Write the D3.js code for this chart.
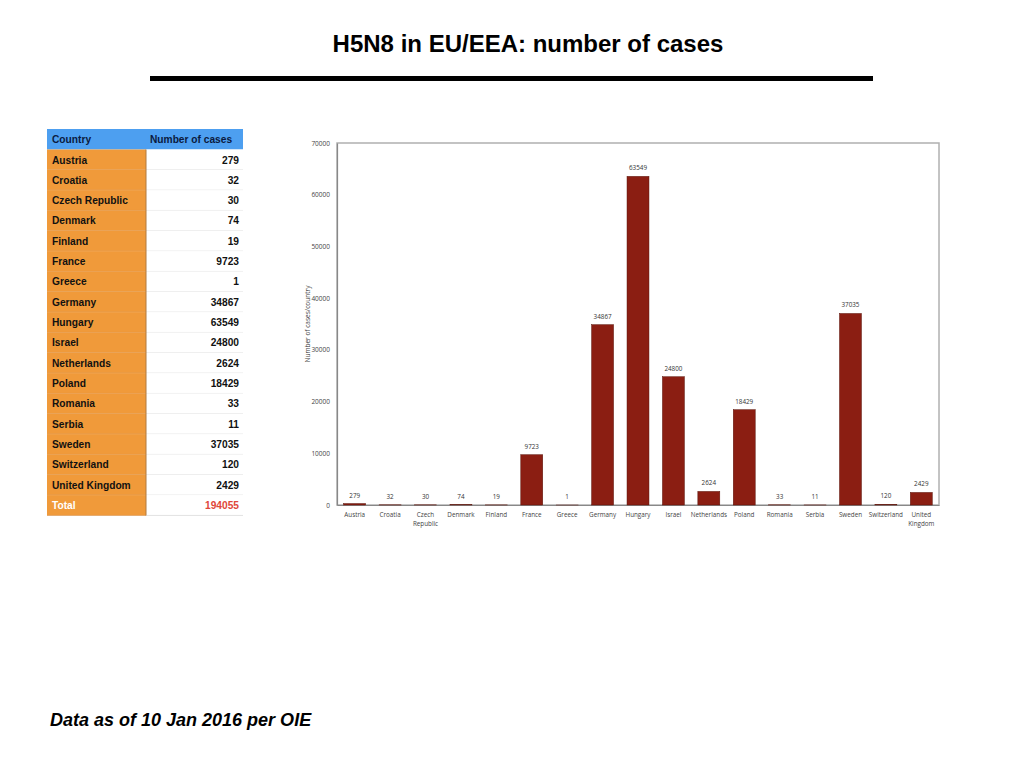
<!DOCTYPE html>
<html><head><meta charset="utf-8">
<script src="https://cdn.jsdelivr.net/npm/d3@7/dist/d3.min.js"></script>
<style>body{margin:0;background:#fff}svg{display:block}</style>
</head><body>
<svg id="c" width="1024" height="768"></svg>
<script>
const countries = ["Austria","Croatia","Czech Republic","Denmark","Finland","France","Greece","Germany","Hungary","Israel","Netherlands","Poland","Romania","Serbia","Sweden","Switzerland","United Kingdom"];
const cases = [279,32,30,74,19,9723,1,34867,63549,24800,2624,18429,33,11,37035,120,2429];
const yTicks = [0,10000,20000,30000,40000,50000,60000,70000];
const totalCases = 194055;
const tableHeader = ["Country","Number of cases"];

const svg = d3.select("#c");
const F = "'Liberation Sans', Arial, Helvetica, sans-serif";

// Title
svg.append("text").attr("x",528).attr("y",52).attr("text-anchor","middle")
  .attr("font-family",F).attr("font-weight","bold").attr("font-size",24).attr("fill","#000")
  .text("H5N8 in EU/EEA: number of cases");
svg.append("rect").attr("x",150).attr("y",76).attr("width",723).attr("height",5).attr("fill","#000");

// Table
const tx = 47, tMid = 146, tR = 243, hTop = 129, hH = 20.5, rH = 20.33;
const tg = svg.append("g");
const TFS = 10.2;
tg.append("rect").attr("x",tx).attr("y",hTop).attr("width",tR-tx).attr("height",hH).attr("fill","#4d9ff0");
tg.append("text").attr("x",tx+5).attr("y",hTop+14).attr("font-family",F).attr("font-weight","bold").attr("font-size",TFS).attr("fill","#0a1a40").text(tableHeader[0]);
tg.append("text").attr("x",tMid+4).attr("y",hTop+14).attr("font-family",F).attr("font-weight","bold").attr("font-size",TFS).attr("fill","#0a1a40").text(tableHeader[1]);
const rows = countries.map((c,i)=>({c, v:cases[i], total:false})).concat([{c:"Total", v:totalCases, total:true}]);
const r0 = hTop+hH;
const rg = tg.selectAll("g.row").data(rows).join("g").attr("transform",(d,i)=>`translate(0,${r0+i*rH})`);
rg.append("rect").attr("x",tx).attr("y",0).attr("width",tMid-tx).attr("height",rH).attr("fill","#f09a3a");
rg.append("rect").attr("x",tMid).attr("y",0).attr("width",tR-tMid).attr("height",rH).attr("fill","#fff");
rg.append("line").attr("x1",tx).attr("x2",tMid).attr("y1",rH).attr("y2",rH).attr("stroke","#e0a060").attr("stroke-width",0.8);
rg.append("line").attr("x1",tMid).attr("x2",tR).attr("y1",rH).attr("y2",rH).attr("stroke","#dcdcdc").attr("stroke-width",0.8);
rg.append("text").attr("x",tx+5).attr("y",14).attr("font-family",F).attr("font-weight","bold").attr("font-size",TFS)
  .attr("fill",d=>d.total?"#fff":"#111").text(d=>d.c);
rg.append("text").attr("x",tR-4).attr("y",14).attr("text-anchor","end").attr("font-family",F).attr("font-weight","bold").attr("font-size",TFS)
  .attr("fill",d=>d.total?"#e0473a":"#111").text(d=>d.v);
tg.append("line").attr("x1",tMid).attr("x2",tMid).attr("y1",r0).attr("y2",r0+rows.length*rH).attr("stroke","#b07a40").attr("stroke-width",1);

// Chart
const pL = 337, pR = 939, pT = 143, pB = 505;
const x = d3.scaleBand().domain(countries).range([pL,pR]).paddingInner(0.38).paddingOuter(0.19);
const y = d3.scaleLinear().domain([0,70000]).range([pB,pT]);
const cg = svg.append("g");
cg.append("rect").attr("x",pL).attr("y",pT).attr("width",pR-pL).attr("height",pB-pT).attr("fill","none").attr("stroke","#b0b0b0").attr("stroke-width",1.5);

const yAxis = d3.axisLeft(y).tickValues(yTicks).tickSize(0).tickPadding(7).tickFormat(d3.format("d"));
const ya = cg.append("g").attr("transform",`translate(${pL},0)`).call(yAxis);
ya.select(".domain").attr("stroke","#888").attr("stroke-width",1.2);
ya.selectAll("text").attr("font-family","'Open Sans', 'DejaVu Sans', sans-serif").attr("font-size",6.5).attr("fill","#444");

const xAxis = d3.axisBottom(x).tickSize(0).tickPadding(8);
const xa = cg.append("g").attr("transform",`translate(0,${pB})`).call(xAxis);
xa.select(".domain").attr("stroke","#888").attr("stroke-width",1.2);
xa.selectAll("text").attr("font-family","'Open Sans', 'DejaVu Sans', sans-serif").attr("font-size",6.3).attr("fill","#444")
  .each(function(d){
    const t = d3.select(this);
    const parts = d.split(" ");
    if (parts.length>1){
      t.text(null);
      parts.forEach((p,i)=>t.append("tspan").attr("x",0).attr("dy",i===0?"0.71em":"1.35em").text(p));
    }
  });

cg.selectAll("rect.bar").data(countries).join("rect").attr("class","bar")
  .attr("x",d=>x(d)).attr("width",x.bandwidth())
  .attr("y",(d,i)=>y(cases[i])).attr("height",(d,i)=>Math.max(0,pB-y(cases[i])))
  .attr("fill","#8b1e12").attr("stroke","#5a1208").attr("stroke-width",0.5);

cg.selectAll("text.val").data(countries).join("text").attr("class","val")
  .attr("x",d=>x(d)+x.bandwidth()/2).attr("y",(d,i)=>y(cases[i])-6)
  .attr("text-anchor","middle").attr("font-family","'Open Sans', 'DejaVu Sans', sans-serif").attr("font-size",6.3).attr("fill","#333")
  .text((d,i)=>cases[i]);

svg.append("text").attr("transform",`translate(310,${(pT+pB)/2}) rotate(-90)`).attr("text-anchor","middle")
  .attr("font-family","'Open Sans', 'DejaVu Sans', sans-serif").attr("font-size",6.5).attr("fill","#444")
  .text("Number of cases/country");

// Footer
svg.append("text").attr("x",50).attr("y",726).attr("font-family",F).attr("font-weight","bold").attr("font-style","italic")
  .attr("font-size",18).attr("fill","#000").text("Data as of 10 Jan 2016 per OIE");
</script>
</body></html>
